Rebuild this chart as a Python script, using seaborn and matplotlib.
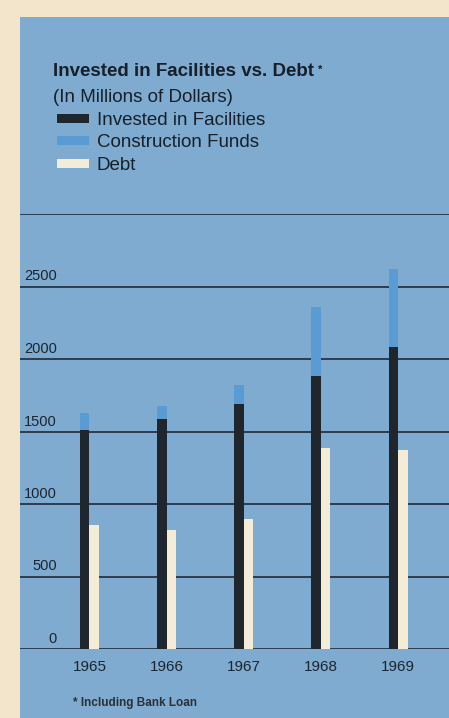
import matplotlib

matplotlib.use("Agg")
import matplotlib.pyplot as plt
import matplotlib.transforms as mtransforms
import pandas as pd
import seaborn as sns
from matplotlib.patches import Patch, Rectangle

years = ["1965", "1966", "1967", "1968", "1969"]
invested = [1508, 1584, 1687, 1880, 2080]
construction_funds = [117, 90, 131, 482, 544]
debt = [854, 820, 895, 1384, 1370]
ytick_values = [0, 500, 1000, 1500, 2000, 2500, 3000]
ytick_labels = ["0", "500", "1000", "1500", "2000", "2500", ""]

PAPER = "#f2e5cb"
PANEL = "#7eabcf"
DARK = "#1f262d"
LIGHT_BLUE = "#5b9bd4"
CREAM = "#f4ecd6"
LINE = "#1d2a38"
INK = "#17202a"

sns.set_theme(style="white")
plt.rcParams["font.family"] = ["Liberation Sans", "DejaVu Sans"]

totals = [a + b for a, b in zip(invested, construction_funds)]
upper = pd.DataFrame({
    "year": years * 2,
    "kind": ["Facilities"] * len(years) + ["Debt"] * len(years),
    "value": totals + debt,
})
lower = pd.DataFrame({
    "year": years * 2,
    "kind": ["Facilities"] * len(years) + ["Debt"] * len(years),
    "value": invested + [0] * len(years),
})

fig = plt.figure(figsize=(4.49, 7.18), dpi=100, facecolor=PAPER)
fig.patches.append(Rectangle((20 / 449, 0), 1, 1 - 17 / 718, transform=fig.transFigure,
                             facecolor=PANEL, edgecolor="none", zorder=-10))
ax = fig.add_axes([20 / 449, 69 / 718, 429 / 449, 435 / 718])
ax.set_facecolor("none")

# light-blue total first, dark invested part drawn over it
order = ["Facilities", "Debt"]
sns.barplot(data=upper, x="year", y="value", hue="kind", hue_order=order,
            palette={"Facilities": LIGHT_BLUE, "Debt": CREAM}, width=0.245, saturation=1,
            dodge=True, linewidth=0, ax=ax, legend=False, zorder=3)
sns.barplot(data=lower, x="year", y="value", hue="kind", hue_order=order,
            palette={"Facilities": DARK, "Debt": CREAM}, width=0.245, saturation=1,
            dodge=True, linewidth=0, ax=ax, legend=False, zorder=4)

ax.set_xlim(-0.9, 4.66)
ax.set_ylim(0, 3000)
ax.set_yticks(ytick_values)
ax.set_yticklabels(ytick_labels)
for y in ytick_values:
    ax.axhline(y, color=LINE, lw=1.2, zorder=1)
ax.tick_params(axis="y", length=0, pad=-26.6, labelsize=10.5, labelcolor="#1c2530")
lift = mtransforms.ScaledTranslation(0, 3 / 100, fig.dpi_scale_trans)
for lab in ax.get_yticklabels():
    lab.set_verticalalignment("bottom")
    lab.set_transform(lab.get_transform() + lift)
ax.tick_params(axis="x", length=0, pad=8, labelsize=11, labelcolor="#1c2530")
ax.set_xlabel("")
ax.set_ylabel("")
for side in ax.spines.values():
    side.set_visible(False)

title = fig.text(53 / 449, 1 - 72 / 718, "Invested in Facilities vs. Debt", fontsize=13.5,
                 fontweight="bold", color=INK, va="center")
ax.annotate("*", xy=(1, 1), xycoords=title, xytext=(3, -1), textcoords="offset points",
            fontsize=8, fontweight="bold", color=INK, va="top", annotation_clip=False)
fig.text(53 / 449, 1 - 97 / 718, "(In Millions of Dollars)", fontsize=13.5,
         color=INK, va="center")

handles = [Patch(facecolor=c, edgecolor="none") for c in (DARK, LIGHT_BLUE, CREAM)]
labels = ["Invested in Facilities", "Construction Funds", "Debt"]
fig.legend(handles, labels, loc="upper left", bbox_to_anchor=(57 / 449, 1 - 112 / 718),
           frameon=False, fontsize=13.5, handlelength=1.7, handleheight=0.36,
           handletextpad=0.43, labelspacing=0.29, borderpad=0, borderaxespad=0,
           labelcolor=INK)

fig.text(73 / 449, 1 - 703 / 718, "* Including Bank Loan", fontsize=8.5,
         fontweight="bold", color="#2a3038", va="center")

fig.savefig("out.png", dpi=100, facecolor=PAPER)
